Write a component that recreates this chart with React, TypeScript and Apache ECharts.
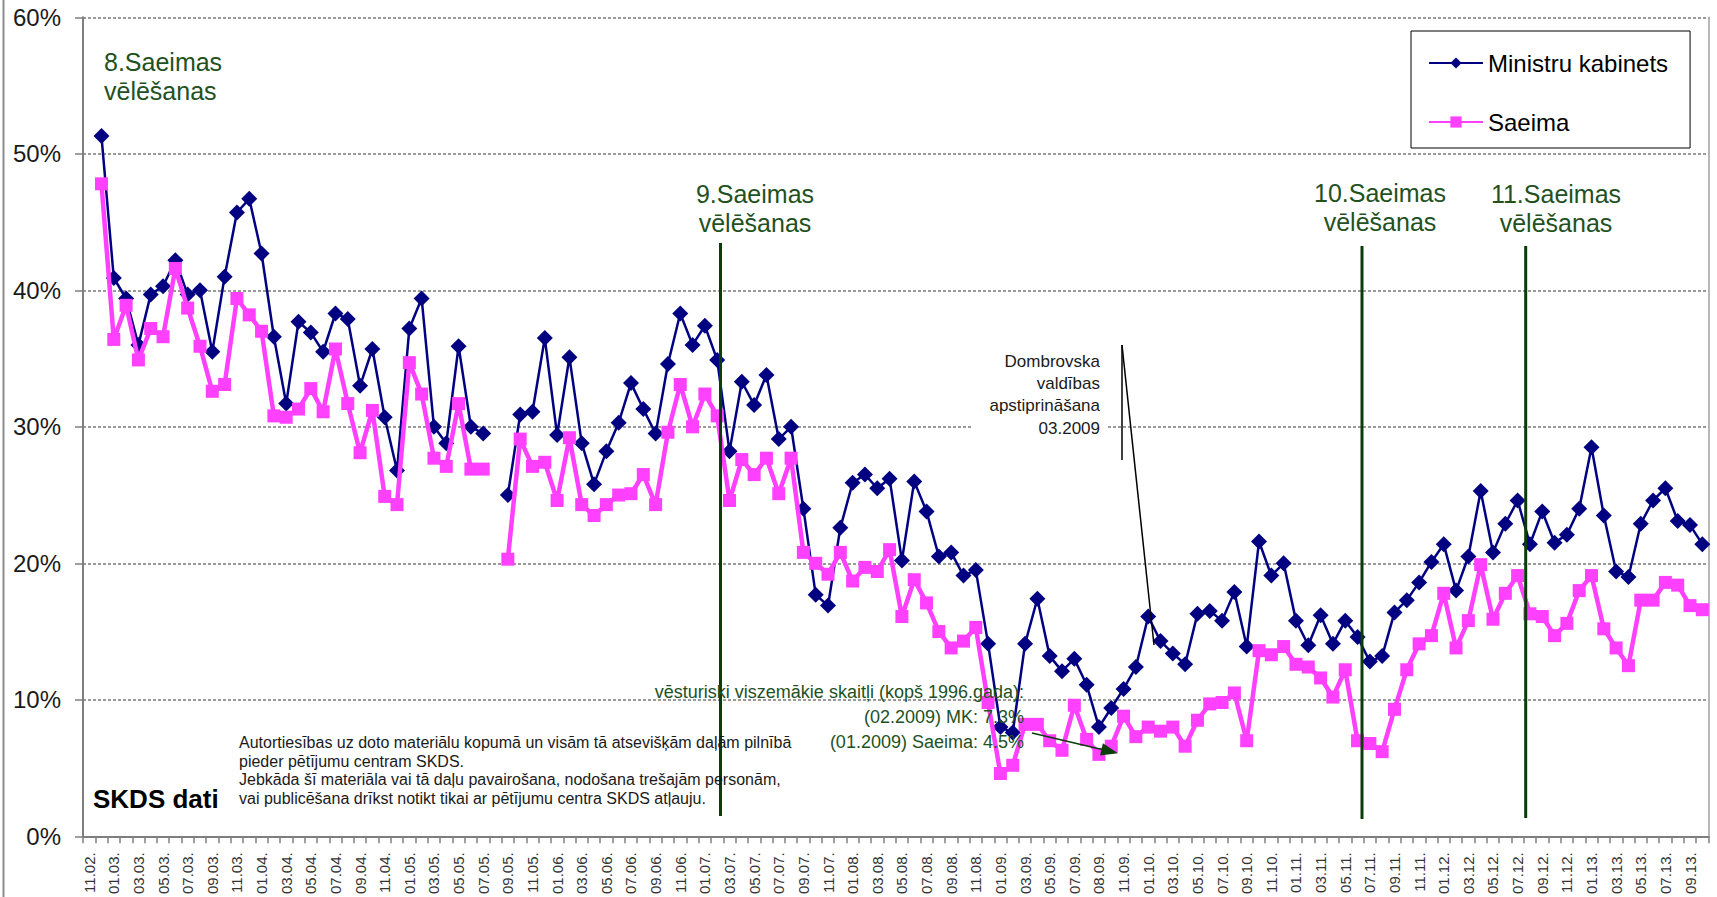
import React, { useEffect, useRef } from "react";
import * as echarts from "echarts";

const FONT = '"Liberation Sans", Arial, sans-serif';

// Category labels (every other one is shown on the axis)
const categories: string[] = [
  "11.02.", "12.02.",
  "01.03.", "02.03.", "03.03.", "04.03.", "05.03.", "06.03.", "07.03.", "08.03.", "09.03.", "10.03.", "11.03.", "12.03.",
  "01.04.", "02.04.", "03.04.", "04.04.", "05.04.", "06.04.", "07.04.", "08.04.", "09.04.", "10.04.", "11.04.", "12.04.",
  "01.05.", "02.05.", "03.05.", "04.05.", "05.05.", "06.05.", "07.05.", "08.05.", "09.05.", "10.05.", "11.05.", "12.05.",
  "01.06.", "02.06.", "03.06.", "04.06.", "05.06.", "06.06.", "07.06.", "08.06.", "09.06.", "10.06.", "11.06.", "12.06.",
  "01.07.", "02.07.", "03.07.", "04.07.", "05.07.", "06.07.", "07.07.", "08.07.", "09.07.", "10.07.", "11.07.", "12.07.",
  "01.08.", "02.08.", "03.08.", "04.08.", "05.08.", "06.08.", "07.08.", "08.08.", "09.08.", "10.08.", "11.08.", "12.08.",
  "01.09.", "02.09.", "03.09.", "04.09.", "05.09.", "06.09.", "07.09.", "07/08.09.", "08.09.", "10.09.", "11.09.", "12.09.",
  "01.10.", "02.10.", "03.10.", "04.10.", "05.10.", "06.10.", "07.10.", "08.10.", "09.10.", "10.10.", "11.10.", "12.10.",
  "01.11.", "02.11.", "03.11.", "04.11.", "05.11.", "06.11.", "07.11.", "08.11.", "09.11.", "10.11.", "11.11.", "12.11.",
  "01.12.", "02.12.", "03.12.", "04.12.", "05.12.", "06.12.", "07.12.", "08.12.", "09.12.", "10.12.", "11.12.", "12.12.",
  "01.13.", "02.13.", "03.13.", "04.13.", "05.13.", "06.13.", "07.13.", "08.13.", "09.13.", "10.13.",
];

const ministruKabinets: (number | null)[] = [
  null, 51.3, 40.9, 39.4, 36.0, 39.7, 40.3, 42.2, 39.7, 40.0,
  35.5, 41.0, 45.7, 46.7, 42.7, 36.6, 31.7, 37.7, 36.9, 35.5,
  38.3, 37.9, 33.0, 35.7, 30.7, 26.8, 37.2, 39.4, 30.0, 28.8,
  35.9, 30.0, 29.5, null, 25.0, 30.9, 31.1, 36.5, 29.4, 35.1,
  28.8, 25.8, 28.2, 30.3, 33.2, 31.3, 29.5, 34.6, 38.3, 36.0,
  37.4, 34.9, 28.2, 33.3, 31.6, 33.8, 29.1, 30.0, 24.0, 17.7,
  16.9, 22.6, 25.9, 26.5, 25.5, 26.2, 20.2, 26.0, 23.8, 20.5,
  20.8, 19.1, 19.5, 14.1, 8.0, 7.6, 14.1, 17.4, 13.2, 12.1,
  13.0, 11.1, 8.0, 9.4, 10.8, 12.4, 16.1, 14.3, 13.4, 12.6,
  16.3, 16.5, 15.8, 17.9, 13.9, 21.6, 19.1, 20.0, 15.8, 14.0,
  16.2, 14.1, 15.8, 14.6, 12.8, 13.2, 16.4, 17.3, 18.6, 20.1,
  21.4, 18.0, 20.5, 25.3, 20.8, 22.9, 24.6, 21.4, 23.8, 21.5,
  22.1, 24.0, 28.5, 23.5, 19.4, 19.0, 22.9, 24.6, 25.5, 23.1,
  22.8, 21.4,
];

const saeima: (number | null)[] = [
  null, 47.8, 36.4, 38.9, 34.9, 37.2, 36.6, 41.6, 38.7, 35.9,
  32.6, 33.1, 39.4, 38.2, 37.0, 30.8, 30.7, 31.3, 32.8, 31.1,
  35.7, 31.7, 28.1, 31.2, 24.9, 24.3, 34.7, 32.4, 27.7, 27.1,
  31.7, 26.9, 26.9, null, 20.3, 29.1, 27.1, 27.4, 24.6, 29.2,
  24.3, 23.5, 24.3, 25.0, 25.1, 26.5, 24.3, 29.6, 33.1, 30.0,
  32.4, 30.8, 24.6, 27.6, 26.5, 27.7, 25.1, 27.7, 20.8, 20.0,
  19.2, 20.8, 18.7, 19.7, 19.4, 21.0, 16.1, 18.8, 17.1, 15.0,
  13.8, 14.3, 15.3, 9.8, 4.6, 5.2, 8.2, 8.2, 7.0, 6.3,
  9.6, 7.1, 6.0, 6.6, 8.8, 7.3, 8.0, 7.7, 8.0, 6.6,
  8.5, 9.7, 9.8, 10.5, 7.0, 13.6, 13.3, 13.9, 12.6, 12.4,
  11.6, 10.2, 12.2, 7.0, 6.8, 6.2, 9.3, 12.2, 14.1, 14.7,
  17.8, 13.8, 15.8, 19.9, 15.9, 17.8, 19.1, 16.3, 16.1, 14.7,
  15.6, 18.0, 19.1, 15.2, 13.8, 12.5, 17.3, 17.3, 18.6, 18.4,
  16.9, 16.6,
];

const seriesNames = ["Ministru kabinets", "Saeima"];

const electionLabels = [
  { lines: ["8.Saeimas", "vēlēšanas"] },
  { lines: ["9.Saeimas", "vēlēšanas"] },
  { lines: ["10.Saeimas", "vēlēšanas"] },
  { lines: ["11.Saeimas", "vēlēšanas"] },
];

const dombrovskaNote = ["Dombrovska", "valdības", "apstiprināšana", "03.2009"];
const lowNote = [
  "vēsturiski viszemākie skaitļi (kopš 1996.gada):",
  "(02.2009) MK: 7.3%",
  "(01.2009) Saeima: 4.5%",
];
const copyrightNote = [
  "Autortiesības uz doto materiālu kopumā un visām tā atsevišķām daļām pilnībā",
  "pieder pētījumu centram SKDS.",
  "Jebkāda šī materiāla vai tā daļu pavairošana, nodošana trešajām personām,",
  "vai publicēšana drīkst notikt tikai ar pētījumu centra SKDS atļauju.",
];
const sourceLabel = "SKDS dati";

const GREEN_TEXT = "#22511f";
const GREEN_LINE = "#0b3d0b";

function txt(text: string, x: number, y: number, size: number, color: string, align: string, extra: any = {}) {
  return {
    type: "text",
    x,
    y,
    z: 10,
    style: {
      text,
      fill: color,
      font: `${extra.weight || "normal"} ${size}px ${FONT}`,
      align,
      verticalAlign: "middle",
      textAlign: align,
      textVerticalAlign: "middle",
    },
  };
}

export default function App() {
  const ref = useRef<HTMLDivElement>(null);

  useEffect(() => {
    if (!ref.current) return;
    const chart = echarts.init(ref.current, undefined, { renderer: "svg" });

    const graphics: any[] = [];
    // outer frame left edge
    graphics.push({
      type: "line",
      z: 10,
      shape: { x1: 3.5, y1: 0, x2: 3.5, y2: 897 },
      style: { stroke: "#8c8c8c", lineWidth: 2 },
    });
    // election vertical lines
    const vlines = [
      { x: 720.5, y1: 243, y2: 816 },
      { x: 1362, y1: 246, y2: 819 },
      { x: 1525.7, y1: 246, y2: 818 },
    ];
    vlines.forEach((v) =>
      graphics.push({
        type: "line",
        z: 5,
        shape: { x1: v.x, y1: v.y1, x2: v.x, y2: v.y2 },
        style: { stroke: GREEN_LINE, lineWidth: 3 },
      })
    );
    // election labels
    const labelPos = [
      { x: 104, y: 62, align: "left" },
      { x: 755, y: 194, align: "center" },
      { x: 1380, y: 193, align: "center" },
      { x: 1556, y: 194, align: "center" },
    ];
    electionLabels.forEach((l, i) => {
      const p = labelPos[i];
      l.lines.forEach((s, j) => graphics.push(txt(s, p.x, p.y + j * 28.5, 25, GREEN_TEXT, p.align)));
    });
    // Dombrovska note
    graphics.push({
      type: "rect",
      z: 1,
      shape: { x: 973, y: 348, width: 134, height: 92 },
      style: { fill: "#ffffff" },
    });
    dombrovskaNote.forEach((s, j) => graphics.push(txt(s, 1100, 361.5 + j * 22.2, 17, "#1a1a1a", "right")));
    graphics.push({
      type: "line",
      z: 10,
      shape: { x1: 1122, y1: 345, x2: 1122, y2: 460 },
      style: { stroke: "#000", lineWidth: 1.5 },
    });
    graphics.push({
      type: "line",
      z: 10,
      shape: { x1: 1122, y1: 345, x2: 1154, y2: 645 },
      style: { stroke: "#000", lineWidth: 1.5 },
    });
    // historic low note
    lowNote.forEach((s, j) => graphics.push(txt(s, 1024, 692 + j * 25.2, 18, GREEN_TEXT, "right")));
    graphics.push({
      type: "line",
      z: 10,
      shape: { x1: 1032, y1: 733, x2: 1102, y2: 749.5 },
      style: { stroke: GREEN_LINE, lineWidth: 1.5 },
    });
    graphics.push({
      type: "polygon",
      z: 10,
      shape: { points: [[1118, 753.2], [1100.0, 755.6], [1102.9, 743.2]] },
      style: { fill: GREEN_LINE },
    });
    // copyright
    copyrightNote.forEach((s, j) => graphics.push(txt(s, 239, 742.5 + j * 18.6, 16, "#1a1a1a", "left")));
    graphics.push(txt(sourceLabel, 93, 799, 26, "#000", "left", { weight: "bold" }));

    chart.setOption({
      animation: false,
      backgroundColor: "#ffffff",
      textStyle: { fontFamily: FONT },
      grid: { left: 83, top: 17.3, right: 8.5, bottom: 57.7, containLabel: false },
      legend: {
        data: seriesNames,
        orient: "vertical",
        left: 1411,
        top: 31,
        padding: [20, 22, 14, 17],
        itemGap: 35,
        itemWidth: 54,
        itemHeight: 14,
        selectedMode: false,
        backgroundColor: "#ffffff",
        borderColor: "#000000",
        borderWidth: 1,
        textStyle: { fontSize: 24, color: "#000", fontFamily: FONT },
      },
      xAxis: {
        type: "category",
        data: categories,
        boundaryGap: true,
        axisLine: { show: true, lineStyle: { color: "#7f7f7f", width: 2 } },
        axisTick: { show: true, interval: 0, length: 7, lineStyle: { color: "#7f7f7f", width: 1.5 } },
        axisLabel: { interval: 1, rotate: 90, fontSize: 15, color: "#333", margin: 16, fontFamily: FONT },
        splitLine: { show: false },
      },
      yAxis: [
        {
          type: "value",
          min: 0,
          max: 60,
          interval: 10,
          axisLine: { show: true, lineStyle: { color: "#7f7f7f", width: 2 } },
          axisTick: { show: true, length: 8, lineStyle: { color: "#7f7f7f", width: 1.5 } },
          axisLabel: { formatter: "{value}%", fontSize: 24, color: "#1a1a1a", margin: 22, fontFamily: FONT },
          splitLine: { show: true, lineStyle: { type: [3, 2], color: "#7a7a7a", width: 1.5 } },
        },
        {
          type: "value",
          min: 0,
          max: 60,
          interval: 10,
          position: "right",
          axisLine: { show: true, lineStyle: { color: "#a0a0a0", width: 1.5 } },
          axisTick: { show: false },
          axisLabel: { show: false },
          splitLine: { show: false },
        },
      ],
      series: [
        {
          name: seriesNames[0],
          type: "line",
          data: ministruKabinets,
          yAxisIndex: 0,
          symbol: "diamond",
          symbolSize: 16,
          showAllSymbol: true,
          connectNulls: false,
          itemStyle: { color: "#000080" },
          lineStyle: { color: "#000080", width: 2.5 },
          z: 2,
        },
        {
          name: seriesNames[1],
          type: "line",
          data: saeima,
          yAxisIndex: 0,
          symbol: "rect",
          symbolSize: 13,
          showAllSymbol: true,
          connectNulls: false,
          itemStyle: { color: "#ff40ff" },
          lineStyle: { color: "#ff40ff", width: 4.5 },
          z: 3,
        },
      ],
      graphic: graphics,
    });

    return () => chart.dispose();
  }, []);

  return (
    <div
      ref={ref}
      style={{ position: "absolute", left: 0, top: 0, width: 1717, height: 897, background: "#fff" }}
    />
  );
}
